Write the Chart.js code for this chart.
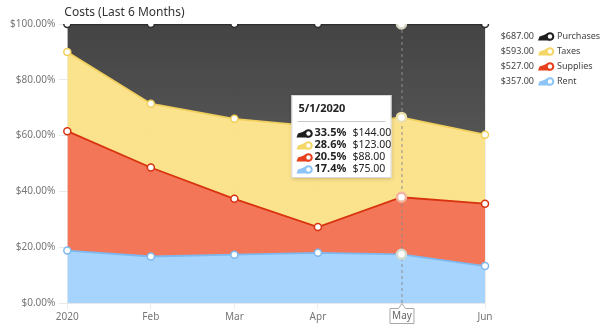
<!DOCTYPE html>
<html>
<head>
<meta charset="utf-8">
<script src="https://cdn.jsdelivr.net/npm/chart.js@4.4.1/dist/chart.umd.min.js"></script>
<style>
  html, body { margin: 0; padding: 0; background: #fff; }
  #costs { display: block; }
</style>
</head>
<body>
<canvas id="costs" width="604" height="330"></canvas>
<script>
// monthly costs, dollars
const months = ['2020', 'Feb', 'Mar', 'Apr', 'May', 'Jun'];
const dates = ['1/1/2020', '2/1/2020', '3/1/2020', '4/1/2020', '5/1/2020', '6/1/2020'];
const rent = [47, 70, 52, 45, 75, 68];
const supplies = [107, 134, 60, 23, 88, 115];
const taxes = [71, 96, 86, 90, 123, 127];
const purchases = [25, 120, 102, 92, 144, 204];
const yTicks = [0, 20, 40, 60, 80, 100];
const activeIndex = 4; // May is the hovered month

const FONT = "'Noto Sans', sans-serif";

const series = [
  { name: 'Rent', values: rent, fill: 'rgba(160,209,252,0.93)', line: '#7db9f0', ring: '#cfdccf', icon: '#8cc4f7' },
  { name: 'Supplies', values: supplies, fill: 'rgba(241,108,74,0.93)', line: '#d8330f', ring: '#f0b4a0', icon: '#e8401c' },
  { name: 'Taxes', values: taxes, fill: 'rgba(251,225,135,0.95)', line: '#f1cf5c', ring: '#ebe0ac', icon: '#f5d768' },
  { name: 'Purchases', values: purchases, fill: '#4a4a4a', line: '#2e2e2e', ring: '#d8d6c4', icon: '#1e1e1e' }
];

const monthTotals = months.map((m, i) => series.reduce((s, d) => s + d.values[i], 0));
const pct = arr => arr.map((v, i) => v / monthTotals[i] * 100);
const sum = arr => arr.reduce((a, b) => a + b, 0);
const money = v => '$' + v.toFixed(2);

function darkGradient(ctx) {
  const area = ctx.chart.chartArea;
  if (!area) return '#4a4a4a';
  const g = ctx.chart.ctx.createLinearGradient(0, area.top, 0, area.bottom);
  g.addColorStop(0, 'rgba(58,58,58,0.95)');
  g.addColorStop(1, 'rgba(100,100,100,0.95)');
  return g;
}

const datasets = series.map((s, k) => ({
  label: s.name,
  data: pct(s.values),
  fill: k === 0 ? 'origin' : '-1',
  backgroundColor: s.name === 'Purchases' ? darkGradient : s.fill,
  borderColor: s.line,
  borderWidth: s.name === 'Purchases' ? 2.5 : 1.8,
  tension: 0,
  pointBackgroundColor: '#fff',
  pointBorderColor: months.map((m, i) => i === activeIndex ? s.ring : s.line),
  pointBorderWidth: months.map((m, i) => i === activeIndex ? 2.5 : 1.5),
  pointRadius: months.map((m, i) => i === activeIndex ? 4.5 : 3.5)
}));

// small area-series glyph used by legend and tooltip
function drawIcon(ctx, x, y, color) {
  ctx.save();
  ctx.fillStyle = color;
  ctx.beginPath();
  ctx.moveTo(x, y + 4.5);
  ctx.lineTo(x + 1.5, y + 0.5);
  ctx.lineTo(x + 6, y - 1);
  ctx.lineTo(x + 10, y - 3);
  ctx.lineTo(x + 12, y + 4.5);
  ctx.closePath();
  ctx.fill();
  ctx.beginPath();
  ctx.arc(x + 12, y + 0.5, 4.3, 0, Math.PI * 2);
  ctx.fill();
  ctx.fillStyle = '#fff';
  ctx.beginPath();
  ctx.arc(x + 12, y + 0.5, 2.2, 0, Math.PI * 2);
  ctx.fill();
  ctx.restore();
}

const overlay = {
  id: 'costsOverlay',
  beforeDatasetsDraw(chart) {
    // crosshair for the hovered month, under lines and points
    const { ctx, chartArea } = chart;
    const x = chart.scales.x.getPixelForValue(activeIndex);
    ctx.save();
    ctx.strokeStyle = '#8c8c8c';
    ctx.lineWidth = 1;
    ctx.setLineDash([3, 3]);
    ctx.beginPath();
    ctx.moveTo(x + 0.5, chartArea.top);
    ctx.lineTo(x + 0.5, chartArea.bottom);
    ctx.stroke();
    ctx.restore();
  },
  afterDraw(chart) {
    const { ctx, chartArea } = chart;
    ctx.save();
    ctx.textBaseline = 'middle';

    // title
    ctx.font = '12px ' + FONT;
    ctx.fillStyle = '#333';
    ctx.textAlign = 'left';
    ctx.fillText('Costs (Last 6 Months)', chartArea.left - 3, 13);

    // legend with series totals
    const legendRows = series.slice().reverse();
    legendRows.forEach((s, r) => {
      const y = 36 + r * 15;
      ctx.font = '9px ' + FONT;
      ctx.fillStyle = '#444';
      ctx.textAlign = 'right';
      ctx.fillText(money(sum(s.values)), 534, y);
      drawIcon(ctx, 538, y, s.icon);
      ctx.textAlign = 'left';
      ctx.fillText(s.name, 557, y);
    });

    // x label box for the hovered month
    const mx = chart.scales.x.getPixelForValue(activeIndex);
    const by = chartArea.bottom + 5;
    ctx.fillStyle = '#fff';
    ctx.strokeStyle = '#a8a8a8';
    ctx.lineWidth = 1;
    ctx.beginPath();
    ctx.moveTo(mx - 11.5, by + 0.5);
    ctx.lineTo(mx - 3, by + 0.5);
    ctx.lineTo(mx + 0.5, chartArea.bottom + 0.5);
    ctx.lineTo(mx + 4, by + 0.5);
    ctx.lineTo(mx + 12.5, by + 0.5);
    ctx.lineTo(mx + 12.5, by + 15.5);
    ctx.lineTo(mx - 11.5, by + 15.5);
    ctx.closePath();
    ctx.fill();
    ctx.stroke();
    ctx.font = '10px ' + FONT;
    ctx.fillStyle = '#666';
    ctx.textAlign = 'center';
    ctx.fillText(months[activeIndex], mx + 0.5, by + 8.5);

    // tooltip for the hovered month
    const w = 100, h = 83;
    const tx = mx - 10 - w, ty = chartArea.top + 71;
    ctx.save();
    ctx.shadowColor = 'rgba(0,0,0,0.18)';
    ctx.shadowBlur = 4;
    ctx.shadowOffsetX = 1;
    ctx.shadowOffsetY = 1;
    ctx.fillStyle = '#fff';
    ctx.fillRect(tx, ty, w, h);
    ctx.restore();
    ctx.strokeStyle = '#d8d8d8';
    ctx.strokeRect(tx + 0.5, ty + 0.5, w - 1, h - 1);

    ctx.textAlign = 'left';
    ctx.fillStyle = '#222';
    ctx.font = 'bold 11px ' + FONT;
    ctx.fillText(dates[activeIndex], tx + 7, ty + 14);
    ctx.strokeStyle = '#c8c8c8';
    ctx.beginPath();
    ctx.moveTo(tx + 6, ty + 26.5);
    ctx.lineTo(tx + w - 6, ty + 26.5);
    ctx.stroke();

    legendRows.forEach((s, r) => {
      const y = ty + 38 + r * 12;
      const v = s.values[activeIndex];
      drawIcon(ctx, tx + 5, y, s.icon);
      ctx.fillStyle = '#222';
      ctx.font = 'bold 11px ' + FONT;
      ctx.fillText((v / monthTotals[activeIndex] * 100).toFixed(1) + '%', tx + 23, y);
      ctx.font = '10.5px ' + FONT;
      ctx.fillText(money(v), tx + 61, y);
    });
    ctx.restore();
  }
};

new Chart(document.getElementById('costs'), {
  type: 'line',
  data: { labels: months, datasets },
  options: {
    responsive: false,
    animation: false,
    events: [],
    layout: { padding: { left: 6, top: 24, right: 119, bottom: 5 } },
    plugins: {
      legend: { display: false },
      tooltip: { enabled: false },
      title: { display: false },
      filler: { drawTime: 'beforeDatasetsDraw' }
    },
    scales: {
      x: {
        grid: { color: '#ececec', tickLength: 6, drawTicks: true },
        border: { display: false },
        ticks: { font: { family: FONT, size: 10 }, color: '#777', padding: 2, maxRotation: 0 }
      },
      y: {
        stacked: true,
        min: yTicks[0],
        max: yTicks[yTicks.length - 1],
        afterBuildTicks: axis => { axis.ticks = yTicks.map(v => ({ value: v })); },
        grid: { color: '#e8e8e8', tickLength: 8 },
        border: { display: false },
        ticks: {
          font: { family: FONT, size: 10 },
          color: '#777',
          padding: 4,
          callback: v => '$' + v.toFixed(2) + '%'
        }
      }
    }
  },
  plugins: [overlay]
});
</script>
</body>
</html>
